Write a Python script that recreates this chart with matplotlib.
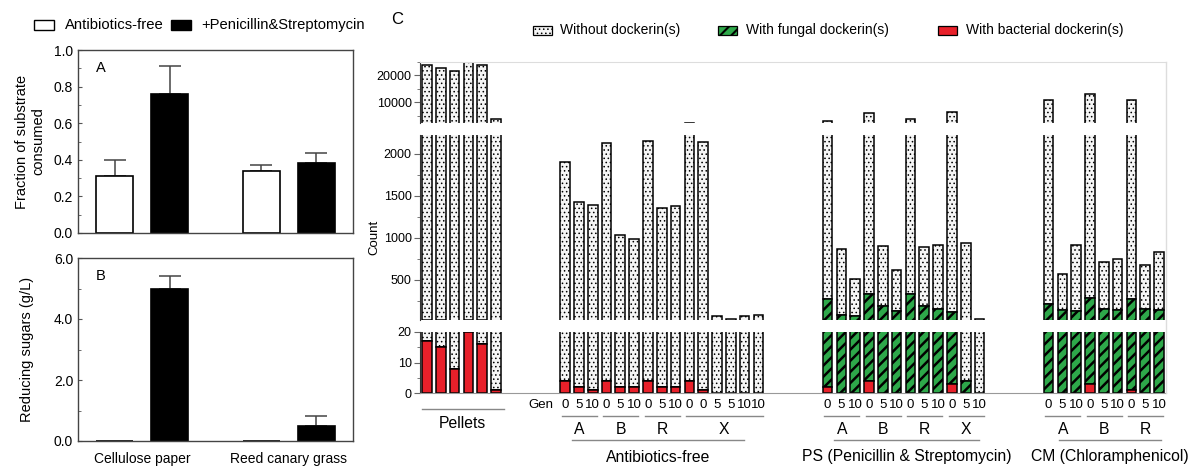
import matplotlib
matplotlib.use('Agg')
import matplotlib.pyplot as plt
import numpy as np
from matplotlib.patches import Rectangle
from matplotlib.lines import Line2D
from matplotlib import transforms
from matplotlib.ticker import MultipleLocator

plt.rcParams['font.family'] = ['Liberation Sans', 'DejaVu Sans']

W, H = 1192, 466

# ---- panels A and B ----
substrates = ['Cellulose paper', 'Reed canary grass']
frac_free = [0.31, 0.34]
frac_free_err = [0.09, 0.03]
frac_ps = [0.76, 0.38]
frac_ps_err = [0.15, 0.055]
sugar_free = [0.0, 0.0]
sugar_free_err = [0.0, 0.0]
sugar_ps = [4.97, 0.49]
sugar_ps_err = [0.43, 0.32]

# ---- panel C: dockerin counts per sample ----
pellet_gen = ['', '', '', '', '', '']
pellet_total = [23800, 22900, 21500, 24900, 23800, 3700]
pellet_fungal_cum = [17, 15, 8, 20, 16, 1]
pellet_bact = [17, 15, 8, 20, 16, 1]

af_groups = ['A', 'B', 'R', 'X']
af_group_sizes = [3, 3, 3, 6]
af_gen = ['0', '5', '10', '0', '5', '10', '0', '5', '10', '0', '0', '5', '5', '10', '10']
af_total = [1900, 1420, 1390, 2130, 1025, 980, 2150, 1350, 1375, 2400, 2135, 70, 35, 65, 80]
af_fungal_cum = [4, 2, 1, 4, 2, 2, 4, 2, 2, 4, 1, 0, 0, 0, 0]
af_bact = [4, 2, 1, 4, 2, 2, 4, 2, 2, 4, 1, 0, 0, 0, 0]

ps_groups = ['A', 'B', 'R', 'X']
ps_group_sizes = [3, 3, 3, 3]
ps_gen = ['0', '5', '10'] * 4
ps_total = [2950, 860, 505, 5900, 900, 620, 3900, 885, 910, 6500, 930, 30]
ps_fungal_cum = [270, 80, 63, 327, 183, 131, 335, 183, 155, 115, 4, 0]
ps_bact = [2, 0, 0, 4, 0, 0, 0, 0, 0, 3, 0, 0]

cm_groups = ['A', 'B', 'R']
cm_group_sizes = [3, 3, 3]
cm_gen = ['0', '5', '10'] * 3
cm_total = [11000, 570, 915, 13000, 710, 740, 11000, 680, 830]
cm_fungal_cum = [215, 143, 131, 284, 151, 143, 272, 151, 140]
cm_bact = [0, 0, 0, 3, 0, 0, 1, 0, 0]

sections = [
    ('Pellets', [], [], pellet_gen, pellet_total, pellet_fungal_cum, pellet_bact, 0),
    ('Antibiotics-free', af_groups, af_group_sizes, af_gen, af_total, af_fungal_cum, af_bact, 10),
    ('PS (Penicillin & Streptomycin)', ps_groups, ps_group_sizes, ps_gen, ps_total, ps_fungal_cum, ps_bact, 29),
    ('CM (Chloramphenicol)', cm_groups, cm_group_sizes, cm_gen, cm_total, cm_fungal_cum, cm_bact, 45),
]

RED = '#e8202a'
GREEN = '#2ea84a'
DOT = '#f5f5f5'

fig = plt.figure(figsize=(W / 100, H / 100), dpi=100)


def fx(px):
    return px / W


def fy(py):
    return 1 - py / H


def ax_rect(x0, y0, x1, y1):
    return [fx(x0), fy(y1), fx(x1) - fx(x0), fy(y0) - fy(y1)]


# ---------- panels A and B ----------
axA = fig.add_axes(ax_rect(78, 50, 353, 233))
axB = fig.add_axes(ax_rect(78, 258, 353, 441))
xc = np.array([1.0, 2.0])
off, bw = 0.188, 0.25
for ax, free, free_e, ps, ps_e, ymax, step in [
        (axA, frac_free, frac_free_err, frac_ps, frac_ps_err, 1.0, 0.2),
        (axB, sugar_free, sugar_free_err, sugar_ps, sugar_ps_err, 6.0, 2.0)]:
    ax.bar(xc - off, free, width=bw, color='white', edgecolor='black', linewidth=1.2, zorder=2)
    ax.bar(xc + off, ps, width=bw, color='black', edgecolor='black', linewidth=1.2, zorder=2)
    for xs, vals, errs in [(xc - off, free, free_e), (xc + off, ps, ps_e)]:
        for x, v, e in zip(xs, vals, errs):
            if v > 0:
                ax.errorbar(x, v, yerr=[[0], [e]], color='#444444', capsize=8,
                            elinewidth=1.1, capthick=1.1, zorder=1)
    ax.set_xlim(0.562, 2.437)
    ax.set_ylim(0, ymax)
    ax.yaxis.set_major_locator(MultipleLocator(step))
    ax.yaxis.set_minor_locator(MultipleLocator(step / 2))
    ax.set_yticklabels(['{:.1f}'.format(t) for t in ax.get_yticks()])
    ax.tick_params(axis='y', which='both', direction='in', labelsize=10, color='#555555')
    ax.tick_params(axis='y', which='major', length=3)
    ax.tick_params(axis='y', which='minor', length=2)
    ax.tick_params(axis='x', length=0)
    for s in ax.spines.values():
        s.set_color('#444444')
        s.set_linewidth(1.0)

axA.set_xticks([])
axB.set_xticks(xc)
axB.set_xticklabels(substrates, fontsize=10)
axB.tick_params(axis='x', pad=8)
axA.set_ylabel('Fraction of substrate\nconsumed', fontsize=10.5, labelpad=6)
axB.set_ylabel('Reducing sugars (g/L)', fontsize=10.5, labelpad=14)
axA.text(0.065, 0.88, 'A', transform=axA.transAxes, fontsize=10.5)
axB.text(0.065, 0.88, 'B', transform=axB.transAxes, fontsize=10.5)

# legend for A/B
fig.patches.append(Rectangle((fx(34), fy(30)), fx(20), 9.5 / H, transform=fig.transFigure,
                             facecolor='white', edgecolor='black', linewidth=1.0))
fig.text(fx(65), fy(25), 'Antibiotics-free', fontsize=10.7, va='center')
fig.patches.append(Rectangle((fx(171), fy(30)), fx(20), 9.5 / H, transform=fig.transFigure,
                             facecolor='black', edgecolor='black', linewidth=1.0))
fig.text(fx(201), fy(25), '+Penicillin&Streptomycin', fontsize=10.6, va='center')

# ---------- panel C (three-part broken axis) ----------
axT = fig.add_axes(ax_rect(420, 62, 1166, 123))
axM = fig.add_axes(ax_rect(420, 135, 1166, 320))
axL = fig.add_axes(ax_rect(420, 332, 1166, 393))
axT.set_ylim(2300, 25000)
axM.set_ylim(20, 2220)
axL.set_ylim(0, 20)

for ax in (axT, axM, axL):
    lo = ax.get_ylim()[0]
    for name, sec_gen, total, fcum, bact, start in [(s[0], s[3], s[4], s[5], s[6], s[7]) for s in sections]:
        x = start + 0.5 + np.arange(len(total))
        total = np.array(total, float)
        fcum = np.array(fcum, float)
        bact = np.array(bact, float)
        # bars that end below this segment are left out so their edges don't bleed in
        show = total > lo
        with plt.rc_context({'hatch.linewidth': 0.6}):
            ax.bar(x[show], (total - fcum)[show], bottom=fcum[show], width=0.7, color=DOT,
                   hatch='....', edgecolor='black', linewidth=1.1)
        show = fcum > lo
        with plt.rc_context({'hatch.linewidth': 1.8}):
            ax.bar(x[show], (fcum - bact)[show], bottom=bact[show], width=0.7, color=GREEN,
                   hatch='///', edgecolor='black', linewidth=1.1)
        show = bact > lo
        ax.bar(x[show], bact[show], width=0.7, color=RED, edgecolor='black', linewidth=1.1)
    ax.set_xlim(0, 54)
    ax.set_xticks([])
    for s in ax.spines.values():
        s.set_visible(False)
    ax.spines['left'].set_visible(True)
    ax.spines['left'].set_color('#333333')
    ax.tick_params(axis='y', which='both', direction='out', labelsize=9, color='#666666')
    ax.tick_params(axis='y', which='major', length=4, pad=2)
    ax.tick_params(axis='y', which='minor', length=2)

axT.set_yticks([10000, 20000])
axT.yaxis.set_minor_locator(MultipleLocator(5000))
axM.set_yticks([500, 1000, 1500, 2000])
axM.yaxis.set_minor_locator(MultipleLocator(250))
axL.set_yticks([0, 10, 20])
axL.yaxis.set_minor_locator(MultipleLocator(5))

axT.spines['top'].set_visible(True)
axT.spines['top'].set_color('#dddddd')
axL.spines['bottom'].set_visible(True)
axL.spines['bottom'].set_color('#999999')
fig.lines.append(Line2D([fx(1166), fx(1166)], [fy(62), fy(393)], transform=fig.transFigure,
                        color='#dddddd', linewidth=1.0))

fig.text(fx(374), fy(237), 'Count', rotation=90, fontsize=9.5, ha='center', va='center')
fig.text(fx(397), fy(20), 'C', fontsize=12, ha='center', va='center')

# category labels under panel C
tr = transforms.blended_transform_factory(axL.transData, fig.transFigure)
fig.text(fx(541), fy(405), 'Gen', fontsize=9.5, ha='center', va='center')
long_lines = {'Antibiotics-free': (0.48, -1.04), 'PS (Penicillin & Streptomycin)': (0.5, -0.07),
              'CM (Chloramphenicol)': (0.72, 0.13)}
for name, groups, sizes, gen, total, fcum, bact, start in sections:
    x = start + 0.5 + np.arange(len(total))
    if not groups:
        axL.add_line(Line2D([x[0] - 0.38, x[-1] + 0.58], [fy(409), fy(409)], transform=tr,
                            color='#888888', linewidth=1.0, clip_on=False))
        axL.text(x.mean() + 0.1, fy(424), name, transform=tr, fontsize=11.3, ha='center', va='center')
        continue
    for xi, g in zip(x, gen):
        axL.text(xi, fy(405), g, transform=tr, fontsize=9.5, ha='center', va='center')
    i = 0
    for g, n in zip(groups, sizes):
        gx = x[i:i + n]
        axL.add_line(Line2D([gx[0] - 0.24, gx[-1] + 0.3], [fy(415.5), fy(415.5)], transform=tr,
                            color='#888888', linewidth=1.0, clip_on=False))
        axL.text(gx.mean() + 0.03, fy(430), g, transform=tr, fontsize=11.3, ha='center', va='center')
        i += n
    a, b = long_lines[name]
    x0, x1 = x[0] + a, x[-1] + b
    axL.add_line(Line2D([x0, x1], [fy(440), fy(440)], transform=tr,
                        color='#888888', linewidth=1.0, clip_on=False))
    axL.text((x0 + x1) / 2, fy(457), name, transform=tr, fontsize=11.3, ha='center', va='center')

# legend for panel C
legend_items = [(533, 560, 'Without dockerin(s)', DOT, '....', 0.6),
                (718, 746, 'With fungal dockerin(s)', GREEN, '///', 1.5),
                (938, 966, 'With bacterial dockerin(s)', RED, '', 1.0)]
for px, tx, label, fc, hatch, hlw in legend_items:
    with plt.rc_context({'hatch.linewidth': hlw}):
        fig.patches.append(Rectangle((fx(px), fy(35)), fx(19), 9 / H, transform=fig.transFigure,
                                     facecolor=fc, edgecolor='black', hatch=hatch, linewidth=0.9))
    fig.text(fx(tx), fy(30), label, fontsize=10, va='center')

fig.savefig('out.png', dpi=100)
